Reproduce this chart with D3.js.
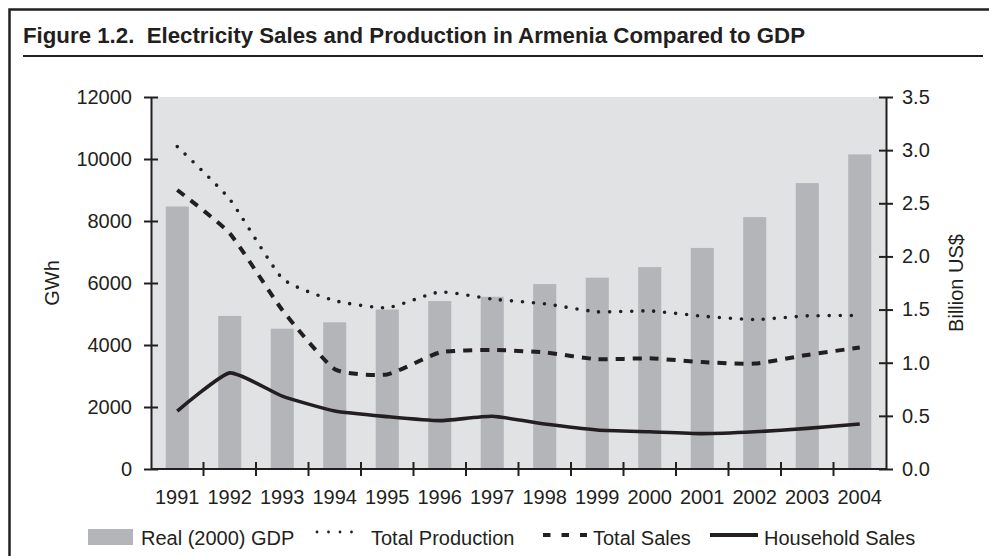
<!DOCTYPE html>
<html lang="en">
<head>
    <meta charset="UTF-8">
    <title>Electricity Sales and Production in Armenia</title>
    <script src="https://cdn.jsdelivr.net/npm/d3@7"></script>
    <style>
        body { margin: 0; background: #fff; }
        text { font-family: "Liberation Sans", Arial, sans-serif; fill: #231f20; }
    </style>
</head>
<body>
<div id="mainContent"></div>
<script>
    // data
    const years = [1991, 1992, 1993, 1994, 1995, 1996, 1997, 1998, 1999, 2000, 2001, 2002, 2003, 2004];
    const gdp = [2.47, 1.44, 1.32, 1.38, 1.50, 1.58, 1.62, 1.74, 1.80, 1.90, 2.08, 2.37, 2.69, 2.96];
    const totalProduction = [10400, 8700, 6150, 5430, 5200, 5710, 5480, 5330, 5070, 5100, 4930, 4820, 4940, 4950];
    const totalSales = [9000, 7600, 5130, 3220, 3050, 3760, 3840, 3760, 3540, 3570, 3450, 3400, 3680, 3920];
    const householdSales = [1870, 3100, 2350, 1870, 1690, 1560, 1700, 1450, 1260, 1200, 1140, 1200, 1310, 1450];
    const leftTicks = [0, 2000, 4000, 6000, 8000, 10000, 12000];
    const rightTicks = [0, 0.5, 1.0, 1.5, 2.0, 2.5, 3.0, 3.5];

    const W = 989, H = 556;
    const margin = {top: 97, right: 103, bottom: 87, left: 151},
        width = W - margin.left - margin.right,
        height = H - margin.top - margin.bottom;

    const ink = "#231f20";

    let svg = d3.select("#mainContent")
        .append("svg")
        .attr("width", W)
        .attr("height", H);

    // frame + title
    svg.append("path")
        .attr("d", "M9.5," + H + "V9.5H" + W)
        .attr("fill", "none")
        .attr("stroke", ink)
        .attr("stroke-width", 2.5);

    svg.append("text")
        .text("Figure 1.2.  Electricity Sales and Production in Armenia Compared to GDP")
        .attr("x", 23)
        .attr("y", 43)
        .attr("font-size", 22)
        .attr("font-weight", "bold")
        .attr("textLength", 782)
        .attr("lengthAdjust", "spacingAndGlyphs")
        .style("white-space", "pre");

    svg.append("line")
        .attr("x1", 23).attr("x2", 983)
        .attr("y1", 56).attr("y2", 56)
        .attr("stroke", ink)
        .attr("stroke-width", 1.8);

    let g = svg.append("g")
        .attr("transform", "translate(" + margin.left + "," + margin.top + ")");

    let xScale = d3.scaleBand()
        .domain(years)
        .range([0, width])
        .paddingInner(0.56)
        .paddingOuter(0.28);

    let yLeft = d3.scaleLinear().domain([0, 12000]).range([height, 0]);
    let yRight = d3.scaleLinear().domain([0, 3.5]).range([height, 0]);

    const cx = d => xScale(d) + xScale.bandwidth() / 2;

    g.append("rect")
        .attr("width", width)
        .attr("height", height)
        .attr("fill", "#e1e2e4");

    // GDP bars
    g.selectAll(".bar")
        .data(years).enter()
        .append("rect")
        .attr("class", "bar")
        .attr("x", d => xScale(d))
        .attr("width", xScale.bandwidth())
        .attr("y", (d, i) => yRight(gdp[i]))
        .attr("height", (d, i) => height - yRight(gdp[i]))
        .attr("fill", "#b4b5b8");

    const lineGen = d3.line()
        .x((d, i) => cx(years[i]))
        .y(d => yLeft(d))
        .curve(d3.curveCardinal.tension(0.5));

    g.append("path")
        .attr("d", lineGen(totalProduction))
        .attr("fill", "none")
        .attr("stroke", ink)
        .attr("stroke-width", 3.6)
        .attr("stroke-linecap", "round")
        .attr("stroke-dasharray", "0 11");

    g.append("path")
        .attr("d", lineGen(totalSales))
        .attr("fill", "none")
        .attr("stroke", ink)
        .attr("stroke-width", 4)
        .attr("stroke-dasharray", "9 8");

    g.append("path")
        .attr("d", lineGen(householdSales))
        .attr("fill", "none")
        .attr("stroke", ink)
        .attr("stroke-width", 3.6)
        .attr("stroke-linejoin", "round");

    function styleAxis(axisNodes) {
        axisNodes.select(".domain").attr("stroke", ink).attr("stroke-width", 2);
        axisNodes.selectAll(".tick line").attr("stroke", ink).attr("stroke-width", 2);
        axisNodes.selectAll(".tick text")
            .attr("font-size", 20)
            .attr("fill", ink);
        axisNodes.attr("font-family", null);
    }

    // left axis, ticks cross the line
    let yAxisNodes = g.append("g")
        .call(d3.axisLeft(yLeft).tickValues(leftTicks).tickFormat(d3.format("d"))
            .tickSizeInner(7).tickSizeOuter(0).tickPadding(12));
    yAxisNodes.selectAll(".tick line").attr("x1", 7);
    styleAxis(yAxisNodes);

    // right axis
    let y2AxisNodes = g.append("g")
        .attr("transform", "translate(" + width + ",0)")
        .call(d3.axisRight(yRight).tickValues(rightTicks).tickFormat(d3.format(".1f"))
            .tickSizeInner(7).tickSizeOuter(0).tickPadding(9));
    y2AxisNodes.selectAll(".tick line").attr("x1", -7);
    styleAxis(y2AxisNodes);

    // bottom axis, labels centred on bars, ticks between them
    let xAxisNodes = g.append("g")
        .attr("transform", "translate(0," + height + ")")
        .call(d3.axisBottom(xScale).tickSize(0).tickSizeOuter(0).tickPadding(21));
    styleAxis(xAxisNodes);
    xAxisNodes.select(".domain").attr("d", "M0,0H" + width);

    const gap = xScale.step() - xScale.bandwidth();
    xAxisNodes.selectAll(".sep")
        .data(years.slice(1)).enter()
        .append("line")
        .attr("class", "sep")
        .attr("x1", d => xScale(d) - gap / 2)
        .attr("x2", d => xScale(d) - gap / 2)
        .attr("y1", -7).attr("y2", 7)
        .attr("stroke", ink)
        .attr("stroke-width", 2);

    // axis titles
    svg.append("text").text("GWh")
        .attr("transform", "translate(59," + (margin.top + height / 2) + ") rotate(-90)")
        .attr("text-anchor", "middle")
        .attr("font-size", 20);

    svg.append("text").text("Billion US$")
        .attr("transform", "translate(963," + (margin.top + height / 2) + ") rotate(-90)")
        .attr("text-anchor", "middle")
        .attr("font-size", 20);

    // legend
    const legendItems = [
        {label: "Real (2000) GDP", type: "bar", x: 88, w: 45},
        {label: "Total Production", type: "dot", x: 317, w: 40},
        {label: "Total Sales", type: "dash", x: 543, w: 44},
        {label: "Household Sales", type: "solid", x: 710, w: 48}
    ];
    const legY = 537;

    let leg = svg.append("g");
    legendItems.forEach(item => {
        if (item.type === "bar") {
            leg.append("rect")
                .attr("x", item.x).attr("y", legY - 8)
                .attr("width", item.w).attr("height", 16)
                .attr("fill", "#b4b5b8");
        } else {
            let l = leg.append("line")
                .attr("x1", item.x).attr("x2", item.x + item.w)
                .attr("y1", item.type === "dot" ? legY - 5 : legY - 2)
                .attr("y2", item.type === "dot" ? legY - 5 : legY - 2)
                .attr("stroke", ink);
            if (item.type === "dot") {
                l.attr("stroke-width", 2.8).attr("stroke-linecap", "round").attr("stroke-dasharray", "0 11.5");
            } else if (item.type === "dash") {
                l.attr("stroke-width", 4).attr("stroke-dasharray", "7.5 11");
            } else {
                l.attr("stroke-width", 4);
            }
        }
        leg.append("text")
            .text(item.label)
            .attr("x", item.type === "dot" ? item.x + item.w + 14 : item.x + item.w + (item.type === "bar" ? 8 : 6))
            .attr("y", legY + 7.5)
            .attr("font-size", 20);
    });
</script>
</body>
</html>
